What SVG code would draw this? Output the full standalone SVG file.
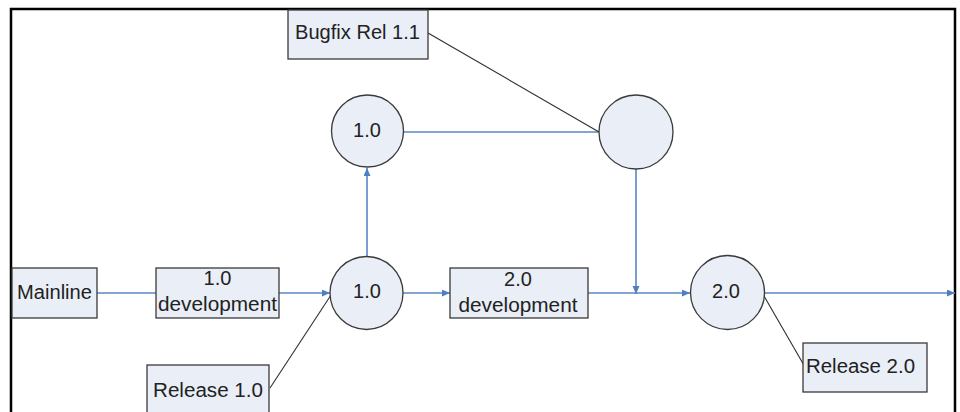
<svg xmlns="http://www.w3.org/2000/svg" width="960" height="412" viewBox="0 0 960 412">
  <style>
    .box { fill: #e9eef7; stroke: #3a3a3a; stroke-width: 1.3; }
    .node { fill: #e9eef7; stroke: #3a3a3a; stroke-width: 1.3; }
    .flow { stroke: #5b86c2; stroke-width: 1.6; fill: none; }
    .note { stroke: #2e2e2e; stroke-width: 1.1; fill: none; }
    .frame { stroke: #000; stroke-width: 2.5; fill: none; }
    text { font-family: "Liberation Sans", Arial, sans-serif; font-size: 20px; fill: #222; }
    .c { text-anchor: middle; }
  </style>
  <defs>
    <marker id="arrow" markerUnits="userSpaceOnUse" markerWidth="9" markerHeight="8" refX="8" refY="3.5" orient="auto">
      <path d="M0,0 L8,3.5 L0,7 z" fill="#4f7fc0"/>
    </marker>
  </defs>

  <!-- outer frame (open at the bottom) -->
  <path class="frame" d="M11,412 V9 H955 V412"/>

  <!-- connectors -->
  <g id="connectors">
    <line class="flow" x1="97" y1="293" x2="156" y2="293"/>
    <line class="flow" x1="279" y1="293" x2="330" y2="293" marker-end="url(#arrow)"/>
    <line class="flow" x1="403" y1="293" x2="450" y2="293" marker-end="url(#arrow)"/>
    <line class="flow" x1="588" y1="293" x2="690" y2="293" marker-end="url(#arrow)"/>
    <line class="flow" x1="764" y1="293" x2="955" y2="293" marker-end="url(#arrow)"/>
    <line class="flow" x1="367" y1="257" x2="367" y2="168" marker-end="url(#arrow)"/>
    <line class="flow" x1="404" y1="132" x2="599" y2="132"/>
    <line class="flow" x1="636" y1="169" x2="636" y2="294" marker-end="url(#arrow)"/>
    <line class="note" x1="428" y1="33" x2="599" y2="132"/>
    <line class="note" x1="270" y1="388" x2="331" y2="295"/>
    <line class="note" x1="764" y1="296" x2="805" y2="367"/>
  </g>

  <g id="mainline">
    <rect class="box" x="12" y="268" width="85" height="50"/>
    <text x="54.5" y="299" class="c" textLength="75" lengthAdjust="spacingAndGlyphs">Mainline</text>
  </g>

  <g id="dev-1-0">
    <rect class="box" x="156" y="268" width="123" height="50"/>
    <text x="217.5" y="285" class="c">1.0</text>
    <text x="217.5" y="311" class="c" textLength="119" lengthAdjust="spacingAndGlyphs">development</text>
  </g>

  <g id="release-1-0">
    <rect class="box" x="147" y="365" width="122" height="52"/>
    <text x="208" y="397" class="c" textLength="110" lengthAdjust="spacingAndGlyphs">Release 1.0</text>
  </g>

  <g id="node-1-0">
    <circle class="node" cx="366.5" cy="293" r="36.5"/>
    <text x="367" y="298" class="c">1.0</text>
  </g>

  <g id="branch-1-0">
    <circle class="node" cx="367.5" cy="131" r="36"/>
    <text x="367" y="137" class="c">1.0</text>
  </g>

  <g id="bugfix-node">
    <circle class="node" cx="636" cy="132" r="37"/>
  </g>

  <g id="bugfix-rel">
    <rect class="box" x="288" y="10" width="140" height="49"/>
    <text x="357.5" y="39" class="c" textLength="125" lengthAdjust="spacingAndGlyphs">Bugfix Rel 1.1</text>
  </g>

  <g id="dev-2-0">
    <rect class="box" x="450" y="268" width="138" height="50"/>
    <text x="518" y="286" class="c">2.0</text>
    <text x="518" y="312" class="c" textLength="119" lengthAdjust="spacingAndGlyphs">development</text>
  </g>

  <g id="node-2-0">
    <circle class="node" cx="727.5" cy="292.5" r="37"/>
    <text x="726" y="298" class="c">2.0</text>
  </g>

  <g id="release-2-0">
    <rect class="box" x="803" y="343" width="124" height="49"/>
    <text x="860.5" y="373" class="c" textLength="109" lengthAdjust="spacingAndGlyphs">Release 2.0</text>
  </g>
</svg>
